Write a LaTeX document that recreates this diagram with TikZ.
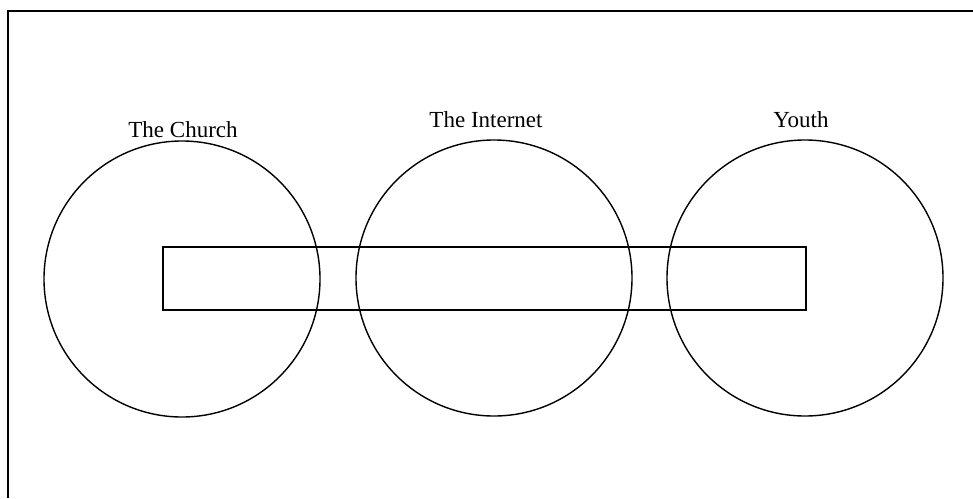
\documentclass[tikz,border=0pt]{standalone}
\usepackage{fontspec}
\setmainfont{Liberation Serif}
\usetikzlibrary{positioning}

\begin{document}
\begin{tikzpicture}[x=1pt,y=-1pt, every node/.style={font=\fontsize{23}{26}\selectfont},
  ring/.style={draw,circle,line width=1.4pt,minimum size=276pt,inner sep=0pt},
  bar/.style={draw,rectangle,line width=1.4pt,minimum width=643pt,minimum height=63pt,inner sep=0pt}]
\useasboundingbox (0,0) rectangle (973,498);
% frame
\coordinate (fl) at (8,498);
\coordinate (ft) at (8,11);
\coordinate (fr) at (973,11);
\draw[line width=2.4pt] (fl) -- (ft) -- (fr);
% the three circles
\node[ring] (church) at (182,279) {};
\node[ring] (internet) at (494,278) {};
\node[ring] (youth) at (805,278) {};
% the bar through them
\node[bar] (link) at (484.5,278.5) {};
% labels
\node (churchlbl) at (183,130) {The Church};
\node (internetlbl) at (486,120) {The Internet};
\node (youthlbl) at (801,120) {Youth};
\end{tikzpicture}
\end{document}
